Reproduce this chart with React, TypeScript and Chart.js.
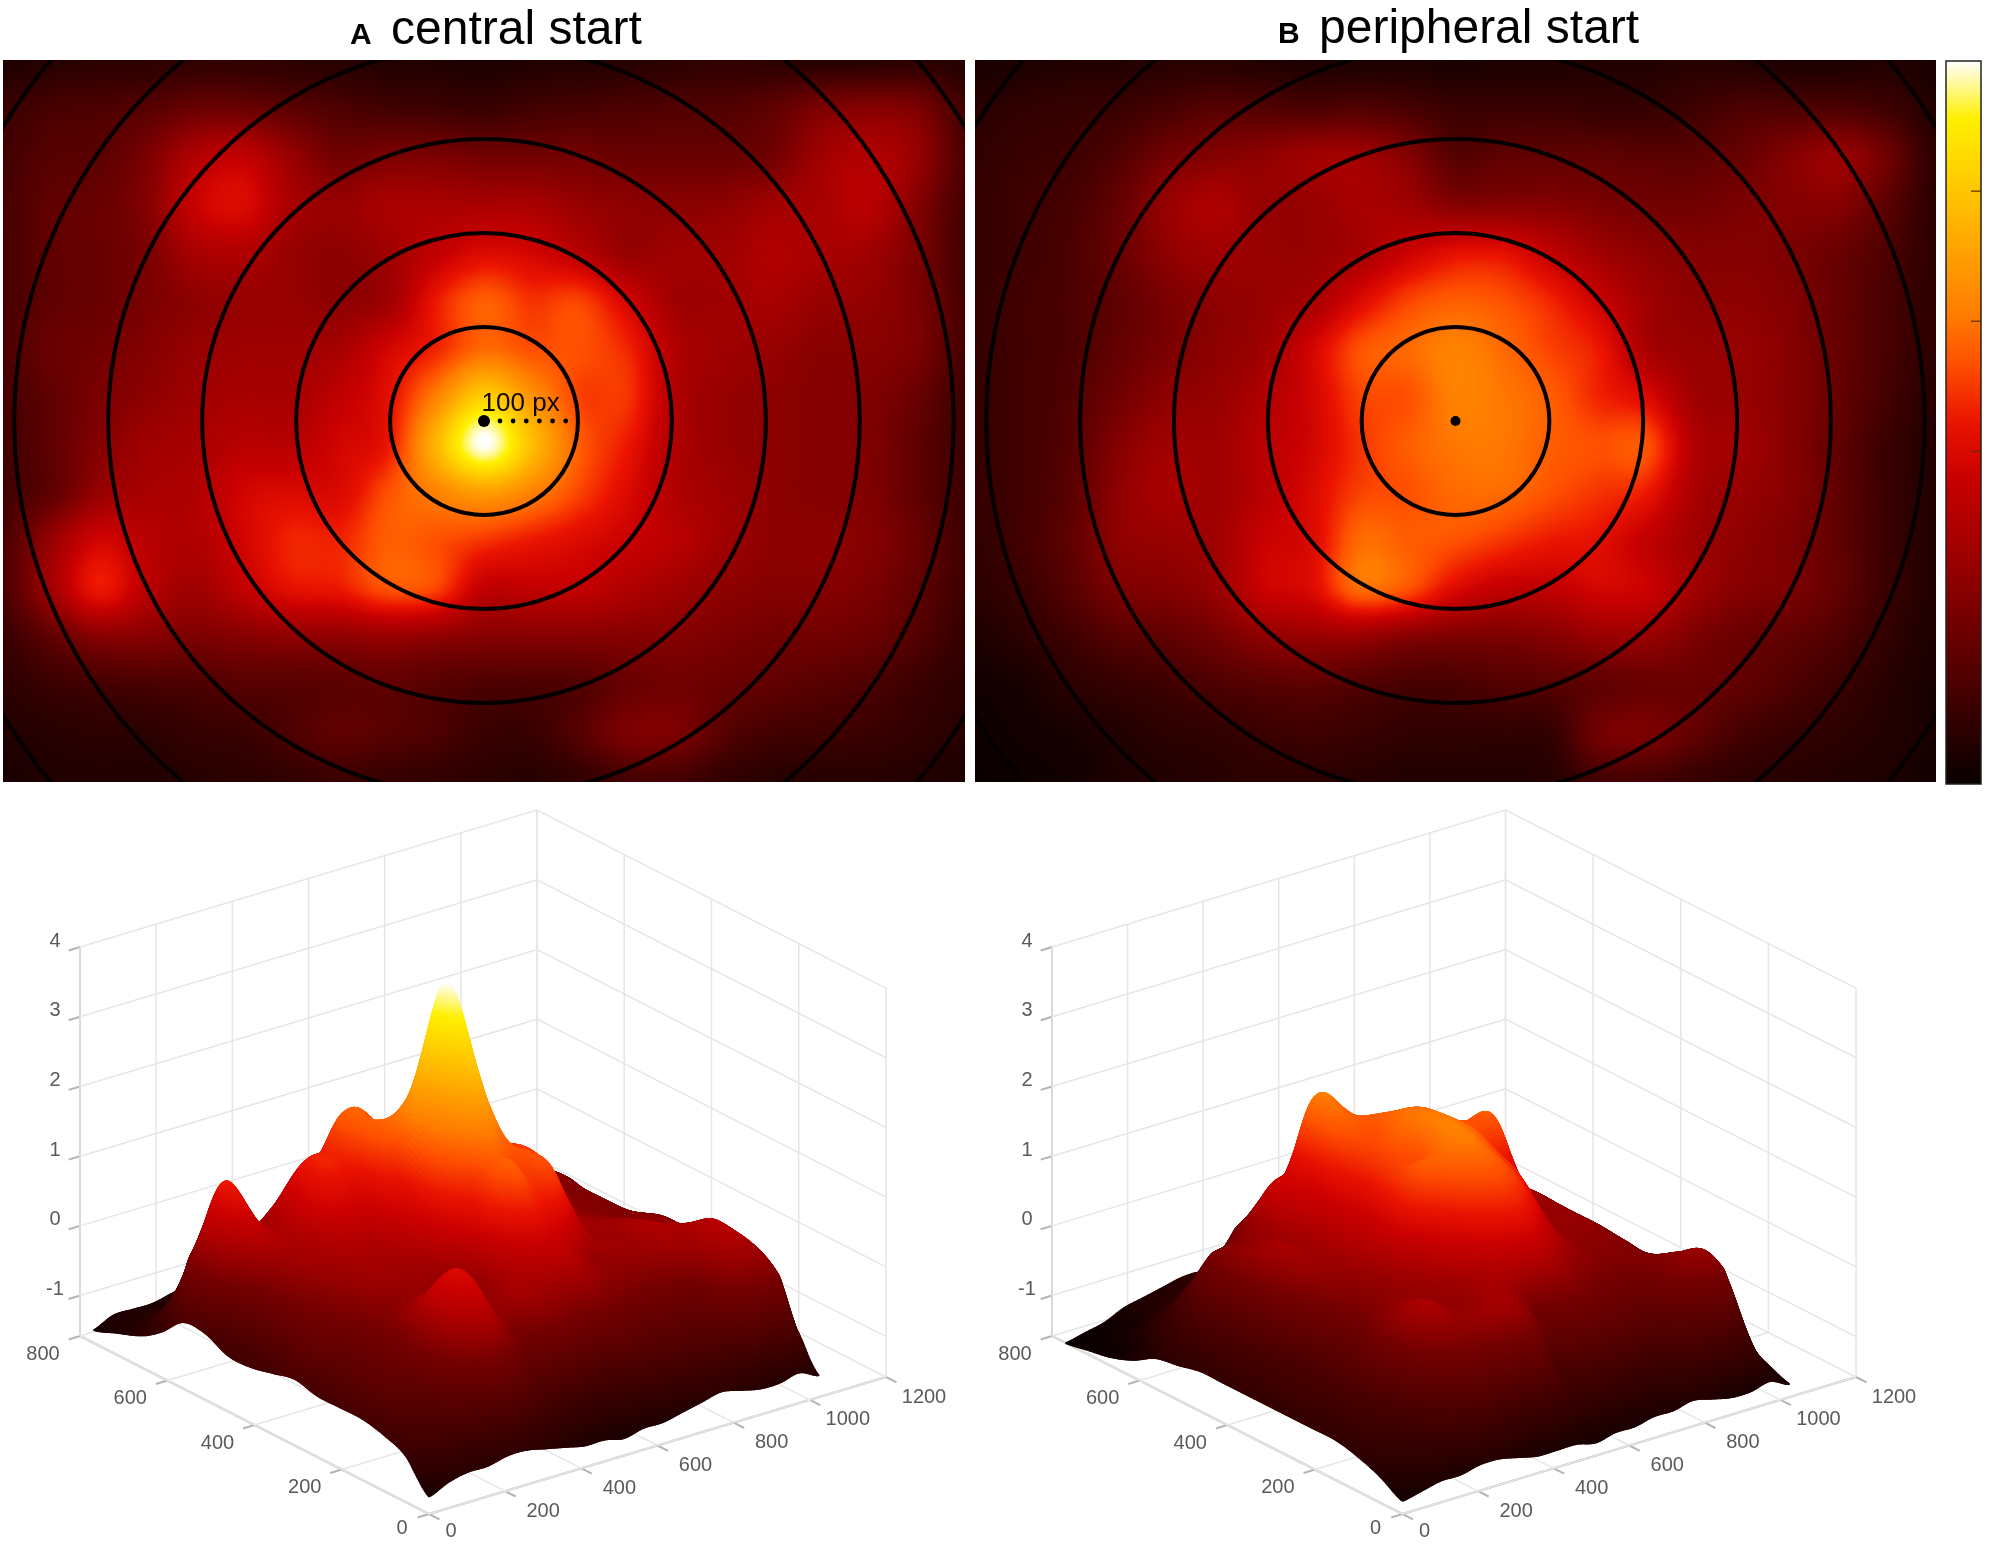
import React, { useEffect, useRef } from "react";
import { Chart, registerables } from "chart.js";

Chart.register(...registerables);

// Heat values (percent of colour range), 21 columns x 16 rows across the 1024 x 768 px field
const HEAT_A: number[][] = [
  [4, 6, 7, 7, 8, 8, 7, 6, 5, 5, 4, 5, 5, 6, 7, 8, 7, 6, 6, 7, 5],
  [10, 13, 14, 16, 20, 20, 17, 14, 12, 11, 10, 12, 13, 14, 15, 15, 18, 24, 26, 24, 12],
  [12, 16, 17, 24, 36, 40, 30, 22, 24, 24, 22, 22, 22, 20, 20, 20, 22, 32, 36, 30, 14],
  [13, 18, 20, 26, 42, 46, 34, 30, 34, 34, 34, 34, 30, 28, 27, 28, 32, 34, 38, 26, 13],
  [13, 18, 20, 24, 34, 36, 30, 28, 32, 40, 46, 44, 38, 30, 32, 32, 36, 34, 32, 24, 12],
  [13, 18, 20, 24, 28, 30, 30, 28, 32, 50, 60, 54, 56, 44, 32, 32, 34, 30, 29, 24, 13],
  [14, 20, 22, 26, 30, 32, 32, 34, 44, 52, 62, 58, 58, 52, 36, 32, 30, 27, 27, 24, 13],
  [13, 18, 24, 28, 32, 34, 34, 40, 48, 66, 84, 70, 56, 54, 36, 30, 28, 26, 25, 20, 11],
  [12, 18, 26, 32, 34, 38, 38, 44, 50, 78, 100, 80, 60, 50, 36, 30, 28, 26, 25, 18, 11],
  [12, 18, 30, 34, 36, 44, 46, 46, 58, 66, 72, 66, 56, 46, 36, 32, 28, 26, 25, 18, 11],
  [14, 30, 44, 38, 36, 44, 52, 52, 60, 58, 54, 50, 46, 42, 38, 32, 28, 28, 26, 20, 11],
  [14, 32, 50, 38, 32, 40, 48, 50, 58, 56, 40, 40, 40, 36, 32, 28, 26, 26, 24, 18, 11],
  [10, 18, 26, 26, 24, 26, 28, 28, 30, 28, 26, 26, 26, 26, 26, 24, 22, 22, 20, 15, 9],
  [7, 10, 12, 13, 14, 16, 16, 17, 18, 16, 14, 14, 15, 20, 22, 20, 18, 16, 14, 10, 7],
  [5, 6, 7, 7, 9, 10, 14, 18, 16, 14, 10, 10, 16, 24, 24, 16, 12, 11, 10, 8, 6],
  [3, 5, 5, 5, 6, 7, 8, 10, 9, 8, 7, 6, 8, 12, 12, 8, 6, 6, 6, 5, 4],
];

const HEAT_B: number[][] = [
  [3, 4, 5, 5, 6, 6, 5, 4, 4, 4, 3, 4, 4, 5, 5, 6, 5, 4, 4, 5, 3],
  [6, 8, 9, 10, 13, 16, 15, 14, 15, 13, 10, 10, 10, 9, 9, 11, 14, 14, 14, 11, 5],
  [8, 10, 11, 15, 22, 26, 28, 32, 32, 26, 16, 18, 18, 18, 17, 17, 20, 26, 30, 21, 7],
  [9, 11, 13, 19, 30, 35, 30, 30, 34, 32, 26, 26, 26, 24, 22, 22, 24, 26, 26, 17, 7],
  [9, 11, 14, 20, 28, 32, 30, 30, 34, 42, 48, 48, 40, 32, 28, 26, 26, 24, 20, 14, 7],
  [9, 12, 14, 18, 24, 28, 30, 34, 46, 56, 60, 58, 52, 42, 32, 28, 28, 25, 19, 13, 7],
  [9, 12, 14, 19, 24, 28, 32, 44, 58, 62, 66, 62, 56, 50, 34, 30, 30, 26, 19, 13, 7],
  [9, 12, 15, 22, 28, 30, 36, 44, 56, 58, 66, 64, 60, 52, 46, 32, 30, 26, 19, 12, 6],
  [9, 12, 16, 26, 32, 32, 38, 44, 54, 60, 64, 64, 60, 58, 58, 36, 32, 26, 18, 10, 5],
  [9, 12, 17, 28, 34, 32, 38, 46, 56, 58, 62, 62, 58, 54, 50, 34, 30, 26, 18, 10, 5],
  [8, 12, 18, 28, 30, 32, 42, 46, 62, 60, 58, 54, 50, 48, 40, 32, 28, 24, 18, 10, 5],
  [7, 10, 16, 24, 26, 30, 42, 46, 62, 58, 46, 40, 40, 44, 42, 32, 26, 24, 18, 10, 5],
  [4, 7, 11, 16, 18, 22, 28, 30, 30, 26, 24, 24, 26, 30, 30, 24, 20, 18, 14, 8, 4],
  [2, 3, 7, 9, 11, 14, 16, 17, 15, 13, 13, 15, 16, 18, 20, 20, 18, 14, 10, 6, 3],
  [1, 2, 3, 5, 7, 8, 10, 11, 10, 8, 8, 8, 9, 22, 24, 18, 12, 9, 7, 5, 3],
  [0, 1, 2, 4, 5, 6, 7, 7, 6, 5, 5, 5, 6, 12, 12, 9, 7, 6, 5, 4, 2],
];

const RING_RADII = [100, 200, 300, 400, 500, 600];
const DOTTED_OFFSETS = [17, 31, 45, 59, 73, 87];
const X_TICKS = [0, 200, 400, 600, 800, 1000, 1200];
const Y_TICKS = [0, 200, 400, 600, 800];
const Z_TICKS = [-1, 0, 1, 2, 3, 4];
const COLORBAR_TICKS = [0.46, 0.64, 0.82];
const COLOR_STOPS = [
  [0, 10, 0, 0],
  [0.19, 100, 0, 0],
  [0.32, 160, 0, 0],
  [0.42, 200, 0, 0],
  [0.5, 235, 20, 0],
  [0.58, 255, 80, 0],
  [0.65, 255, 125, 0],
  [0.8, 255, 190, 0],
  [0.92, 255, 240, 0],
  [1, 255, 255, 255],
];
// Surface height for a given colour level
const HEIGHT_LEVELS = [0, 0.08, 0.15, 0.23, 0.37, 0.5, 0.66, 1];
const HEIGHT_VALUES = [-1.58, -1.08, -0.55, 0.05, 0.6, 1.2, 2.06, 3.9];

const FIELD_W = 1024;
const FIELD_H = 768;
const FONT = '"Liberation Sans", Arial, sans-serif';

function colorAt(v: number): [number, number, number] {
  const t = Math.max(0, Math.min(1, v));
  for (let i = 1; i < COLOR_STOPS.length; i++) {
    const a = COLOR_STOPS[i - 1];
    const b = COLOR_STOPS[i];
    if (t <= b[0]) {
      const f = (t - a[0]) / (b[0] - a[0]);
      return [a[1] + (b[1] - a[1]) * f, a[2] + (b[2] - a[2]) * f, a[3] + (b[3] - a[3]) * f];
    }
  }
  return [255, 255, 255];
}

function heightAt(h: number) {
  for (let i = 1; i < HEIGHT_LEVELS.length; i++) {
    if (h <= HEIGHT_LEVELS[i]) {
      const f = (h - HEIGHT_LEVELS[i - 1]) / (HEIGHT_LEVELS[i] - HEIGHT_LEVELS[i - 1]);
      return HEIGHT_VALUES[i - 1] + (HEIGHT_VALUES[i] - HEIGHT_VALUES[i - 1]) * f;
    }
  }
  return HEIGHT_VALUES[HEIGHT_VALUES.length - 1];
}

function cubic(p0: number, p1: number, p2: number, p3: number, t: number) {
  return (
    0.5 *
    (2 * p1 + (p2 - p0) * t + (2 * p0 - 5 * p1 + 4 * p2 - p3) * t * t + (3 * p1 - p0 - 3 * p2 + p3) * t * t * t)
  );
}

// Smooth rendering of the grid: returns heat 0..1 at a field position
function sampleGrid(grid: number[][], fx: number, fy: number) {
  const rows = grid.length;
  const cols = grid[0].length;
  const gx = Math.max(0, Math.min(cols - 1, (fx / FIELD_W) * (cols - 1)));
  const gy = Math.max(0, Math.min(rows - 1, (fy / FIELD_H) * (rows - 1)));
  const ix = Math.min(cols - 2, Math.floor(gx));
  const iy = Math.min(rows - 2, Math.floor(gy));
  const tx = gx - ix;
  const ty = gy - iy;
  const r = (k: number) => grid[Math.max(0, Math.min(rows - 1, k))];
  const rowAt = (row: number[]) =>
    cubic(row[Math.max(0, ix - 1)], row[ix], row[ix + 1], row[Math.min(cols - 1, ix + 2)], tx);
  const val = cubic(rowAt(r(iy - 1)), rowAt(r(iy)), rowAt(r(iy + 1)), rowAt(r(iy + 2)), ty);
  return Math.max(0, Math.min(100, val)) / 100;
}

function fieldPoints(grid: number[][]) {
  const pts: { x: number; y: number }[] = [];
  grid.forEach((row, j) =>
    row.forEach((_, i) =>
      pts.push({ x: (i / (row.length - 1)) * FIELD_W, y: (j / (grid.length - 1)) * FIELD_H })
    )
  );
  return pts;
}

type Title = { tag: string; tagX: number; text: string; textX: number; baseline: number };

function heatmapChart(
  canvas: HTMLCanvasElement,
  grid: number[][],
  area: { left: number; top: number; right: number; bottom: number },
  title: Title,
  showLabel: boolean
) {
  const plugin = {
    id: "heatField",
    beforeDatasetsDraw(chart: any) {
      const { ctx, chartArea: a, scales } = chart;
      const w = Math.round(a.right - a.left);
      const h = Math.round(a.bottom - a.top);
      const off = document.createElement("canvas");
      off.width = w;
      off.height = h;
      const octx = off.getContext("2d")!;
      const img = octx.createImageData(w, h);
      for (let py = 0; py < h; py++) {
        const fy = scales.y.getValueForPixel(a.top + py + 0.5);
        for (let px = 0; px < w; px++) {
          const fx = scales.x.getValueForPixel(a.left + px + 0.5);
          const c = colorAt(sampleGrid(grid, fx, fy));
          const o = (py * w + px) * 4;
          img.data[o] = c[0];
          img.data[o + 1] = c[1];
          img.data[o + 2] = c[2];
          img.data[o + 3] = 255;
        }
      }
      octx.putImageData(img, 0, 0);
      ctx.drawImage(off, a.left, a.top);
      ctx.save();
      ctx.beginPath();
      ctx.rect(a.left, a.top, w, h);
      ctx.clip();
      ctx.strokeStyle = "#050000";
      ctx.lineWidth = 4;
      const cx = scales.x.getPixelForValue(FIELD_W / 2);
      const cy = scales.y.getPixelForValue(FIELD_H / 2);
      RING_RADII.forEach((r) => {
        const rx = scales.x.getPixelForValue(FIELD_W / 2 + r) - cx;
        const ry = scales.y.getPixelForValue(FIELD_H / 2 + r) - cy;
        ctx.beginPath();
        ctx.ellipse(cx, cy, rx, ry, 0, 0, Math.PI * 2);
        ctx.stroke();
      });
      ctx.restore();
    },
    afterDatasetsDraw(chart: any) {
      const { ctx, scales } = chart;
      ctx.save();
      ctx.textBaseline = "alphabetic";
      ctx.textAlign = "left";
      ctx.fillStyle = "#000";
      ctx.font = `bold 30px ${FONT}`;
      ctx.fillText(title.tag, title.tagX, title.baseline);
      ctx.font = `48px ${FONT}`;
      ctx.fillText(title.text, title.textX, title.baseline);
      if (showLabel) {
        ctx.font = `26px ${FONT}`;
        ctx.textAlign = "center";
        ctx.fillStyle = "#100800";
        ctx.fillText("100 px", scales.x.getPixelForValue(FIELD_W / 2 + 39), scales.y.getPixelForValue(FIELD_H / 2) - 10);
      }
      ctx.restore();
    },
  };
  const datasets: any[] = [
    { label: "field", data: fieldPoints(grid), pointRadius: 0, showLine: false },
    {
      label: "centre",
      data: [{ x: FIELD_W / 2, y: FIELD_H / 2 }],
      pointRadius: showLabel ? 6 : 5,
      backgroundColor: "#000",
      borderWidth: 0,
      showLine: false,
    },
  ];
  if (showLabel) {
    datasets.push({
      label: "100 px",
      data: DOTTED_OFFSETS.map((d) => ({ x: FIELD_W / 2 + d, y: FIELD_H / 2 })),
      pointRadius: 2.4,
      backgroundColor: "#000",
      borderWidth: 0,
      showLine: false,
    });
  }
  return new Chart(canvas, {
    type: "scatter",
    data: { datasets },
    plugins: [plugin as any],
    options: {
      animation: false,
      responsive: false,
      devicePixelRatio: 1,
      layout: {
        autoPadding: false,
        padding: {
          left: area.left,
          top: area.top,
          right: canvas.width - area.right,
          bottom: canvas.height - area.bottom,
        },
      },
      plugins: { legend: { display: false }, tooltip: { enabled: false }, title: { display: false } },
      scales: {
        x: { type: "linear", min: 0, max: FIELD_W, display: false },
        y: { type: "linear", min: 0, max: FIELD_H, reverse: true, display: false },
      },
    },
  } as any);
}

type Geom = { ox: number; oy: number; xx: number; xy: number; yx: number; yy: number };
const Z_FLOOR = -1.58;
const Z_UNIT = 69.7;
const X_SPAN = 1200;
const Y_SPAN = 800;

function surfaceChart(canvas: HTMLCanvasElement, grid: number[][], g: Geom) {
  const project = (x: number, y: number, z: number) => ({
    x: g.ox + (x / X_SPAN) * (g.xx - g.ox) + (y / Y_SPAN) * (g.yx - g.ox),
    y: g.oy + (x / X_SPAN) * (g.xy - g.oy) + (y / Y_SPAN) * (g.yy - g.oy) - (z - Z_FLOOR) * Z_UNIT,
  });
  const lines: any[] = [];
  const line = (pts: { x: number; y: number }[], color: string, width: number) =>
    lines.push({
      data: pts,
      showLine: true,
      pointRadius: 0,
      borderColor: color,
      borderWidth: width,
      tension: 0,
    });
  const GRID = "#e6e6e6";
  const AXIS = "#b4b4b4";
  Z_TICKS.forEach((z) => line([project(0, Y_SPAN, z), project(X_SPAN, Y_SPAN, z), project(X_SPAN, 0, z)], GRID, 1.5));
  X_TICKS.forEach((x) => {
    line([project(x, Y_SPAN, Z_FLOOR), project(x, Y_SPAN, 4)], GRID, 1.5);
    line([project(x, 0, Z_FLOOR), project(x, Y_SPAN, Z_FLOOR)], GRID, 1.5);
  });
  Y_TICKS.forEach((y) => {
    line([project(X_SPAN, y, Z_FLOOR), project(X_SPAN, y, 4)], GRID, 1.5);
    line([project(0, y, Z_FLOOR), project(X_SPAN, y, Z_FLOOR)], GRID, 1.5);
  });
  line([project(0, 0, Z_FLOOR), project(X_SPAN, 0, Z_FLOOR)], AXIS, 2);
  line([project(0, 0, Z_FLOOR), project(0, Y_SPAN, Z_FLOOR)], AXIS, 2);
  line([project(0, Y_SPAN, Z_FLOOR), project(0, Y_SPAN, 4)], AXIS, 2);
  X_TICKS.forEach((x) => line([project(x, 0, Z_FLOOR), project(x, -24, Z_FLOOR)], AXIS, 2));
  Y_TICKS.forEach((y) => line([project(0, y, Z_FLOOR), project(-30, y, Z_FLOOR)], AXIS, 2));
  Z_TICKS.forEach((z) => line([project(0, Y_SPAN, z), project(-30, Y_SPAN, z)], AXIS, 2));

  const plugin = {
    id: "surface",
    afterDatasetsDraw(chart: any) {
      const { ctx, scales } = chart;
      const px = (p: { x: number; y: number }) => ({
        x: scales.x.getPixelForValue(p.x),
        y: scales.y.getPixelForValue(p.y),
      });
      const STEP = 3;
      const nx = Math.floor(FIELD_W / STEP);
      const ny = Math.floor(FIELD_H / STEP);
      const heat: number[][] = [];
      for (let i = 0; i <= nx; i++) {
        heat.push([]);
        for (let j = 0; j <= ny; j++) heat[i].push(sampleGrid(grid, i * STEP, j * STEP));
      }
      ctx.save();
      ctx.lineWidth = 1.8;
      ctx.lineJoin = "round";
      for (let i = nx - 1; i >= 0; i--) {
        for (let j = ny - 1; j >= 0; j--) {
          const hs = [heat[i][j], heat[i + 1][j], heat[i + 1][j + 1], heat[i][j + 1]];
          const pts = [
            px(project(i * STEP, j * STEP, heightAt(hs[0]))),
            px(project((i + 1) * STEP, j * STEP, heightAt(hs[1]))),
            px(project((i + 1) * STEP, (j + 1) * STEP, heightAt(hs[2]))),
            px(project(i * STEP, (j + 1) * STEP, heightAt(hs[3]))),
          ];
          const c = colorAt((hs[0] + hs[1] + hs[2] + hs[3]) / 4);
          const col = `rgb(${c[0] | 0},${c[1] | 0},${c[2] | 0})`;
          ctx.fillStyle = col;
          ctx.strokeStyle = col;
          ctx.beginPath();
          ctx.moveTo(pts[0].x, pts[0].y);
          ctx.lineTo(pts[1].x, pts[1].y);
          ctx.lineTo(pts[2].x, pts[2].y);
          ctx.lineTo(pts[3].x, pts[3].y);
          ctx.closePath();
          ctx.fill();
          ctx.stroke();
        }
      }
      ctx.fillStyle = "#5a5a5a";
      ctx.font = `20px ${FONT}`;
      ctx.textAlign = "center";
      ctx.textBaseline = "middle";
      Z_TICKS.forEach((z) => {
        const p = px(project(0, Y_SPAN, z));
        ctx.fillText(String(z), p.x - 25, p.y - 6);
      });
      X_TICKS.forEach((x) => {
        const p = px(project(x, 0, Z_FLOOR));
        const off = x === 0 ? [22, 17] : [38, 20];
        ctx.fillText(String(x), p.x + off[0], p.y + off[1]);
      });
      Y_TICKS.forEach((y) => {
        const p = px(project(0, y, Z_FLOOR));
        const off = y === 0 ? [-27, 14] : [-37, 18];
        ctx.fillText(String(y), p.x + off[0], p.y + off[1]);
      });
      ctx.restore();
    },
  };
  return new Chart(canvas, {
    type: "scatter",
    data: { datasets: lines },
    plugins: [plugin as any],
    options: {
      animation: false,
      responsive: false,
      devicePixelRatio: 1,
      layout: { autoPadding: false, padding: 0 },
      plugins: { legend: { display: false }, tooltip: { enabled: false } },
      scales: {
        x: { type: "linear", min: 0, max: canvas.width, display: false },
        y: { type: "linear", min: 0, max: canvas.height, reverse: true, display: false },
      },
    },
  } as any);
}

function colorbarChart(canvas: HTMLCanvasElement) {
  const plugin = {
    id: "colorbar",
    beforeDatasetsDraw(chart: any) {
      const { ctx, chartArea: a, scales } = chart;
      for (let py = Math.floor(a.top); py < a.bottom; py++) {
        const c = colorAt(scales.y.getValueForPixel(py + 0.5));
        ctx.fillStyle = `rgb(${c[0] | 0},${c[1] | 0},${c[2] | 0})`;
        ctx.fillRect(a.left, py, a.right - a.left, 1);
      }
      ctx.strokeStyle = "#222";
      ctx.lineWidth = 1.5;
      ctx.strokeRect(a.left, a.top, a.right - a.left, a.bottom - a.top);
      ctx.strokeStyle = "rgba(90,40,0,0.8)";
      COLORBAR_TICKS.forEach((t) => {
        const y = scales.y.getPixelForValue(t);
        ctx.beginPath();
        ctx.moveTo(a.right - 10, y);
        ctx.lineTo(a.right, y);
        ctx.stroke();
      });
    },
  };
  return new Chart(canvas, {
    type: "scatter",
    data: { datasets: [{ data: [], pointRadius: 0 }] },
    plugins: [plugin as any],
    options: {
      animation: false,
      responsive: false,
      devicePixelRatio: 1,
      layout: { autoPadding: false, padding: { left: 6, right: 19, top: 61, bottom: 16 } },
      plugins: { legend: { display: false }, tooltip: { enabled: false } },
      scales: {
        x: { type: "linear", min: 0, max: 1, display: false },
        y: { type: "linear", min: 0, max: 1, display: false },
      },
    },
  } as any);
}

const abs = (left: number, top: number): React.CSSProperties => ({ position: "absolute", left, top, display: "block" });

export default function App() {
  const heatA = useRef<HTMLCanvasElement>(null);
  const heatB = useRef<HTMLCanvasElement>(null);
  const bar = useRef<HTMLCanvasElement>(null);
  const surfA = useRef<HTMLCanvasElement>(null);
  const surfB = useRef<HTMLCanvasElement>(null);

  useEffect(() => {
    const charts = [
      heatmapChart(
        heatA.current!,
        HEAT_A,
        { left: 3, top: 60, right: 965, bottom: 782 },
        { tag: "A", tagX: 350, text: "central start", textX: 391, baseline: 44 },
        true
      ),
      heatmapChart(
        heatB.current!,
        HEAT_B,
        { left: 5, top: 60, right: 966, bottom: 782 },
        { tag: "B", tagX: 308, text: "peripheral start", textX: 349, baseline: 43 },
        false
      ),
      colorbarChart(bar.current!),
      surfaceChart(surfA.current!, HEAT_A, { ox: 429, oy: 724, xx: 886, xy: 587, yx: 80, yy: 546 }),
      surfaceChart(surfB.current!, HEAT_B, { ox: 432.5, oy: 724, xx: 886, xy: 587, yx: 82, yy: 546 }),
    ];
    return () => charts.forEach((c) => c.destroy());
  }, []);

  return (
    <div style={{ position: "absolute", left: 0, top: 0, width: 2000, height: 1546, background: "#fff", overflow: "hidden" }}>
      <canvas ref={heatA} width={970} height={790} style={abs(0, 0)} />
      <canvas ref={heatB} width={970} height={790} style={abs(970, 0)} />
      <canvas ref={bar} width={60} height={800} style={abs(1940, 0)} />
      <canvas ref={surfA} width={970} height={756} style={abs(0, 790)} />
      <canvas ref={surfB} width={1030} height={756} style={abs(970, 790)} />
    </div>
  );
}
